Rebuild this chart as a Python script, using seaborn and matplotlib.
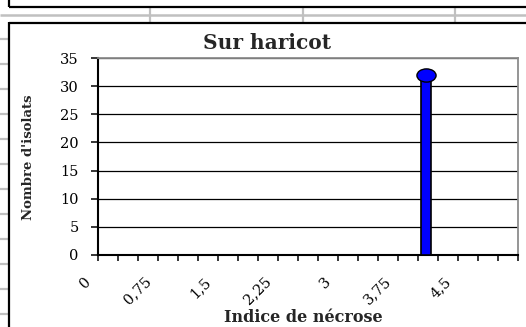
import numpy as np
import pandas as pd
import matplotlib
matplotlib.use("Agg")
import matplotlib.pyplot as plt
from matplotlib.lines import Line2D
from matplotlib.path import Path
from matplotlib.transforms import ScaledTranslation
import seaborn as sns

# ---- data ----
necrosis_index = [4.1]          # indice de nécrose
isolate_counts = [32]           # nombre d'isolats
x_tick_labels = ["0", "0,75", "1,5", "2,25", "3", "3,75", "4,5"]
y_ticks = [0, 5, 10, 15, 20, 25, 30, 35]

title = "Sur haricot"
x_title = "Indice de nécrose"
y_title = "Nombre d'isolats"

df = pd.DataFrame({"indice": necrosis_index, "isolats": isolate_counts})

sns.set_style("white")
plt.rcParams["font.family"] = ["DejaVu Serif"]

W, H = 526, 327
fig = plt.figure(figsize=(W / 100, H / 100), dpi=100)
fig.patch.set_facecolor("white")


def fx(x):
    return x / W


def fy(y):
    return 1 - y / H


def fline(xs, ys, color, lw):
    fig.add_artist(Line2D([fx(v) for v in xs], [fy(v) for v in ys],
                          transform=fig.transFigure, color=color, lw=lw,
                          solid_capstyle="butt"))


# worksheet cell borders around the chart object
grey = "#c0c0c0"
fline([0, W], [14.5, 14.5], grey, 1.8)
for xv in (150, 303, 455):
    fline([xv, xv], [7, 22], grey, 1.6)
for yv in range(39, H, 25):
    fline([0, 8], [yv, yv], grey, 1.6)
# frame of the chart above and of this chart
fline([9, W], [7, 7], "black", 1.6)
fline([9, 9], [0, 7], "black", 1.6)
fline([9, W], [22.5, 22.5], "black", 1.6)
fline([9, 9], [22, H], "black", 1.6)

# plot area
ax = fig.add_axes([fx(98), fy(255), (518 - 98) / W, (255 - 58) / H])
ax.set_facecolor("white")

sns.barplot(data=df, x="indice", y="isolats", native_scale=True, width=0.125,
            color="#0000ff", saturation=1, edgecolor="black", linewidth=1.2,
            errorbar=None, ax=ax, zorder=3)

circ = Path.unit_circle()
oval = Path(circ.vertices * np.array([1.45, 1.0]), circ.codes)
sns.scatterplot(data=df, x="indice", y="isolats", marker=oval, s=190,
                color="#0000ff", edgecolor="black", linewidth=1.0,
                ax=ax, zorder=4, clip_on=False, legend=False)

ax.set_xlim(0, 5.25)
ax.set_ylim(0, 35)

# y axis
ax.set_yticks(y_ticks)
ax.set_yticklabels([str(v) for v in y_ticks], fontsize=10.5)
ax.yaxis.grid(True, color="black", lw=0.9)
ax.set_axisbelow(True)
ax.tick_params(axis="y", direction="out", length=5, width=1.1, pad=9,
               left=True, colors="black")

# x axis: a tick every 0.25, a label every third tick
minor_step = 0.25
label_step = 0.75
tick_pos = np.arange(0, 5.25 + 1e-9, minor_step)
labels = []
li = 0
for t in tick_pos:
    if li < len(x_tick_labels) and abs(t - li * label_step) < 1e-9:
        labels.append(x_tick_labels[li])
        li += 1
    else:
        labels.append("")
ax.set_xticks(tick_pos)
ax.set_xticklabels(labels, fontsize=10.5, rotation=45, ha="right", va="top")
ax.tick_params(axis="x", direction="out", length=4, width=1.1, pad=10,
               bottom=True, colors="black")
shift = ScaledTranslation(-4 / 100, 0, fig.dpi_scale_trans)
for lab in ax.get_xticklabels():
    lab.set_transform(lab.get_transform() + shift)

for side in ("left", "bottom"):
    ax.spines[side].set_color("black")
    ax.spines[side].set_linewidth(1.5)
for side in ("top", "right"):
    ax.spines[side].set_color("#8c8c8c")
    ax.spines[side].set_linewidth(1.3)
    ax.spines[side].set_visible(True)

ax.set_xlabel(x_title, fontsize=11.5, fontweight="bold")
ax.xaxis.set_label_coords((303 - 98) / 420, -(317 - 255) / 197)
ax.xaxis.label.set_va("center")
ax.set_ylabel(y_title, fontsize=9.5, fontweight="bold")
ax.yaxis.set_label_coords((29 - 98) / 420, (255 - 157) / 197)
ax.yaxis.label.set_va("center")

fig.text(fx(267), fy(43), title, ha="center", va="center",
         fontsize=14.5, fontweight="bold")

fig.savefig("out.png", dpi=100, facecolor="white")
